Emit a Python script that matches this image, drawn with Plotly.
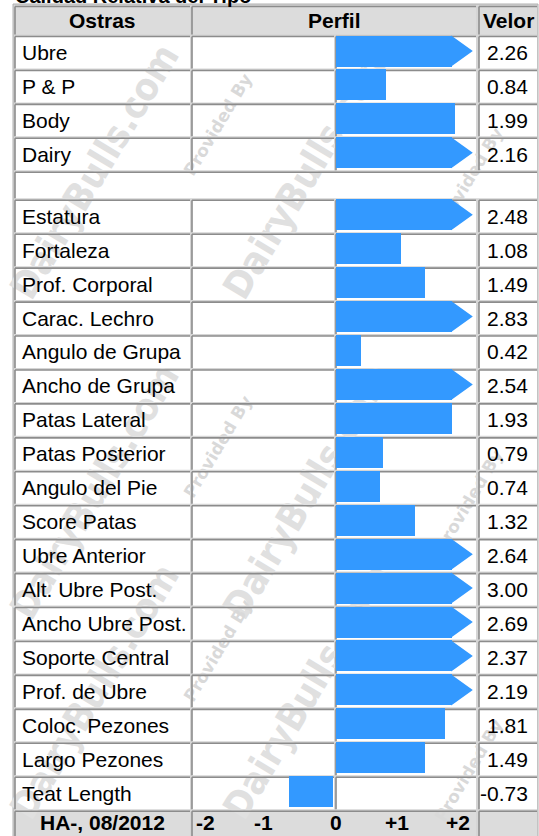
import plotly.graph_objects as go

# ---------------------------------------------------------------- data
TITLE = "Calidad Relativa del Tipo"
HEADERS = ["Ostras", "Perfil", "Velor"]

GROUP1_LABELS = ["Ubre", "P & P", "Body", "Dairy"]
GROUP1_VALUES = [2.26, 0.84, 1.99, 2.16]

GROUP2_LABELS = [
    "Estatura", "Fortaleza", "Prof. Corporal", "Carac. Lechro",
    "Angulo de Grupa", "Ancho de Grupa", "Patas Lateral", "Patas Posterior",
    "Angulo del Pie", "Score Patas", "Ubre Anterior", "Alt. Ubre Post.",
    "Ancho Ubre Post.", "Soporte Central", "Prof. de Ubre", "Coloc. Pezones",
    "Largo Pezones", "Teat Length",
]
GROUP2_VALUES = [
    2.48, 1.08, 1.49, 2.83, 0.42, 2.54, 1.93, 0.79, 0.74, 1.32,
    2.64, 3.00, 2.69, 2.37, 2.19, 1.81, 1.49, -0.73,
]

FOOTER_LABEL = "HA-, 08/2012"
SCALE_LABELS = ["-2", "-1", "0", "+1", "+2"]
WATERMARK_BIG = "DairyBulls.com"
WATERMARK_SMALL = "Provided By"

# ---------------------------------------------------------------- geometry (pixels)
W, H = 539, 836
TABLE_X0, TABLE_X1 = 13, 538
COL_NAME = (15, 190)
COL_NEG = (192, 334)
COL_POS = (336, 476)
COL_VAL = (479, 537)
HEADER_TOP = 5
ROW0_TOP = 35
PITCH = 33.94
GAP_ROW_H = 28
ZERO_PX = 336
PX_PER_UNIT = 60
BAR_THICK = 31
BAR_CAP = 1.93        # values beyond +2 are drawn as a capped arrow
ARROW_TIP = 2.28
NEG_OFFSET = 3 / PX_PER_UNIT

BLUE = "#3399ff"
SPACING = "#d5d5d5"
HEAD_BG = "#dcdcdc"
DARK_EDGE = "#8c8c8c"
FONT = "Liberation Sans, Arial, sans-serif"
TEXT_SIZE = 21

# row layout
tops1 = [ROW0_TOP + i * PITCH for i in range(len(GROUP1_LABELS))]
gap_top = ROW0_TOP + len(GROUP1_LABELS) * PITCH
tops2 = [gap_top + GAP_ROW_H + j * PITCH for j in range(len(GROUP2_LABELS))]
footer_top = tops2[-1] + PITCH

labels = GROUP1_LABELS + GROUP2_LABELS
values = GROUP1_VALUES + GROUP2_VALUES
tops = tops1 + tops2


def px(x):
    return x / W


def py(y):
    return 1 - y / H


shapes = []
annotations = []


def rect(x0, y0, x1, y1, fill, line=None, width=0):
    shapes.append(dict(
        type="rect", xref="paper", yref="paper", layer="below",
        x0=px(x0), x1=px(x1), y0=py(y1), y1=py(y0),
        fillcolor=fill, line=dict(color=line or fill, width=width),
    ))


def edge(x0, y0, x1, y1, color=DARK_EDGE, width=1.6):
    shapes.append(dict(
        type="line", xref="paper", yref="paper", layer="below",
        x0=px(x0), x1=px(x1), y0=py(y0), y1=py(y1),
        line=dict(color=color, width=width),
    ))


def watermark(cx, cy, s, size, color, family):
    shapes.append(dict(
        type="rect", xref="paper", yref="paper", layer="below",
        x0=px(cx - 5), x1=px(cx + 5), y0=py(cy + 5), y1=py(cy - 5),
        line=dict(width=0), fillcolor="rgba(0,0,0,0)",
        label=dict(text=s, textangle=-59, textposition="middle center",
                   font=dict(family=family, size=size, color=color, weight="bold")),
    ))


# table background (cell spacing)
rect(TABLE_X0, HEADER_TOP - 1, TABLE_X1, H + 2, SPACING, "#b0b0b0", 1)

# list of cells: (x0, x1, y0, y1, fill)
cells = []
head_cols = [COL_NAME, (COL_NEG[0], COL_POS[1]), COL_VAL]
for c in head_cols:
    cells.append((c[0], c[1], HEADER_TOP + 1.5, ROW0_TOP - 0.5, HEAD_BG))
for t in tops:
    for c in (COL_NAME, COL_NEG, COL_POS, COL_VAL):
        cells.append((c[0], c[1], t + 1.5, t + PITCH - 0.5, "white"))
cells.append((COL_NAME[0], COL_VAL[1], gap_top + 1.5, gap_top + GAP_ROW_H - 0.5, "white"))
for c in head_cols:
    cells.append((c[0], c[1], footer_top + 1.5, H + 6, HEAD_BG))

for x0, x1, y0, y1, fill in cells:
    rect(x0, y0, x1, y1, fill)

# faint background watermark
BIG_FAMILY = "DejaVu Sans Condensed, DejaVu Sans"
SMALL_FAMILY = "DejaVu Sans, sans-serif"
for cx in (92, 305):
    for cy in (170, 490, 690):
        watermark(cx, cy, WATERMARK_BIG, 38, "#e0e0e0", BIG_FAMILY)
for cy in (124, 446, 650):
    watermark(217, cy, WATERMARK_SMALL, 17, "#d9d9d9", SMALL_FAMILY)
for cy in (178, 500, 770):
    watermark(468, cy, WATERMARK_SMALL, 17, "#d9d9d9", SMALL_FAMILY)

# inset cell edges: dark on top and left
for x0, x1, y0, y1, fill in cells:
    edge(x0, y0, x1, y0)
    edge(x0, y0, x0, min(y1, H + 2))


def text(x, y, s, anchor="left", size=TEXT_SIZE, bold=False):
    annotations.append(dict(
        xref="paper", yref="y", x=px(x), y=y, text=s, showarrow=False,
        xanchor=anchor, yanchor="middle",
        font=dict(family=FONT, size=size, color="black",
                  weight="bold" if bold else "normal"),
    ))


# title, sitting just above the table's top edge
annotations.append(dict(
    xref="paper", yref="y", x=px(13), y=9, text=TITLE, showarrow=False,
    xanchor="left", yanchor="bottom",
    font=dict(family=FONT, size=20, color="black", weight="bold"),
))

# header
text((COL_NAME[0] + COL_NAME[1]) / 2, HEADER_TOP + 15, HEADERS[0], "center", bold=True)
text((COL_NEG[0] + COL_POS[1]) / 2, HEADER_TOP + 15, HEADERS[1], "center", bold=True)
text((COL_VAL[0] + COL_VAL[1]) / 2, HEADER_TOP + 15, HEADERS[2], "center", bold=True)

# row labels and values
for lab, val, t in zip(labels, values, tops):
    yc = t + PITCH / 2 + 0.5
    text(20, yc, lab, "left")
    text(530, yc, f"{val:.2f}", "right")

# footer
fy = footer_top + 13
text((COL_NAME[0] + COL_NAME[1]) / 2, fy, FOOTER_LABEL, "center", bold=True)
scale_px = [205, 263, 336, 397, 458]
for s, xp in zip(SCALE_LABELS, scale_px):
    text(xp, fy, s, "center", bold=True)

# ---------------------------------------------------------------- bars
centers = [t + 16 for t in tops]
bar_x, bar_base = [], []
for v in values:
    if v < 0:
        bar_x.append(v)
        bar_base.append(-NEG_OFFSET)
    else:
        bar_x.append(min(v, BAR_CAP) if v > 2 else v)
        bar_base.append(0)

fig = go.Figure()
fig.add_trace(go.Bar(
    x=bar_x, y=centers, base=bar_base, orientation="h", width=BAR_THICK,
    marker=dict(color=BLUE, line=dict(width=0)), hoverinfo="skip",
))

ax, ay = [], []
for v, c in zip(values, centers):
    if v > 2:
        half = BAR_THICK / 2
        ax += [BAR_CAP - 0.01, ARROW_TIP, BAR_CAP - 0.01, None]
        ay += [c - half, c, c + half, None]
fig.add_trace(go.Scatter(
    x=ax, y=ay, mode="lines", fill="toself", fillcolor=BLUE,
    line=dict(width=0, color=BLUE), hoverinfo="skip",
))

fig.update_layout(
    width=W, height=H, margin=dict(l=0, r=0, t=0, b=0),
    paper_bgcolor="white", plot_bgcolor="rgba(0,0,0,0)",
    showlegend=False, shapes=shapes, annotations=annotations,
    xaxis=dict(domain=[px(COL_NEG[0]), px(COL_POS[1])],
               range=[(COL_NEG[0] - ZERO_PX) / PX_PER_UNIT, (COL_POS[1] - ZERO_PX) / PX_PER_UNIT],
               visible=False, fixedrange=True),
    yaxis=dict(domain=[0, 1], range=[H, 0], visible=False, fixedrange=True),
    bargap=0,
)

fig.write_html("out.html", config={"displayModeBar": False})
